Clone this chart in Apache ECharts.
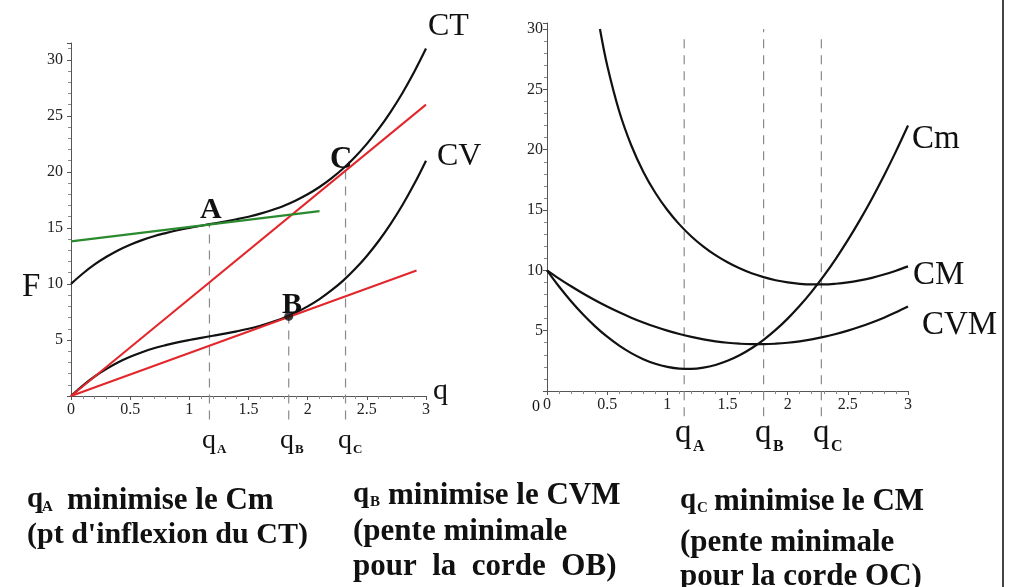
<!DOCTYPE html>
<html>
<head>
<meta charset="utf-8">
<script src="https://cdn.jsdelivr.net/npm/echarts@6/dist/echarts.min.js"></script>
<style>
html,body{margin:0;padding:0;background:#fff;}
#chart{width:1016px;height:587px;}
</style>
</head>
<body>
<div id="chart"></div>
<script>
// ---------- data ----------
const q = [0,0.1,0.2,0.3,0.4,0.5,0.6,0.7,0.8,0.9,1,1.1,1.2,1.3,1.4,1.5,1.6,1.7,1.8,1.9,2,2.1,2.2,2.3,2.4,2.5,2.6,2.7,2.8,2.9,3];
const CT = [10,10.93,11.74,12.42,13.01,13.5,13.91,14.26,14.54,14.79,15,15.19,15.38,15.56,15.77,16,16.27,16.6,16.98,17.45,18,18.65,19.42,20.3,21.33,22.5,23.83,25.34,27.02,28.91,31];
const CV = [0,0.93,1.74,2.42,3.01,3.5,3.91,4.26,4.54,4.79,5,5.19,5.38,5.56,5.77,6,6.27,6.6,6.98,7.45,8,8.65,9.42,10.3,11.33,12.5,13.83,15.34,17.02,18.91,21];
const Cm = [10,8.66,7.44,6.34,5.36,4.5,3.76,3.14,2.64,2.26,2,1.86,1.84,1.94,2.16,2.5,2.96,3.54,4.24,5.06,6,7.06,8.24,9.54,10.96,12.5,14.16,15.94,17.84,19.86,22];
const CVM = [10,9.32,8.68,8.08,7.52,7,6.52,6.08,5.68,5.32,5,4.72,4.48,4.28,4.12,4,3.92,3.88,3.88,3.92,4,4.12,4.28,4.48,4.72,5,5.32,5.68,6.08,6.52,7];
const qCM = [0.44,0.5,0.6,0.7,0.8,0.9,1,1.1,1.2,1.3,1.4,1.5,1.6,1.7,1.8,1.9,2,2.1,2.2,2.3,2.4,2.5,2.6,2.7,2.8,2.9,3];
const CM = [30,27,23.19,20.37,18.18,16.43,15,13.81,12.81,11.97,11.26,10.67,10.17,9.76,9.44,9.18,9,8.88,8.83,8.83,8.89,9,9.17,9.38,9.65,9.97,10.33];
// straight lines (q, F)
const chordOCq = [0, 3],    chordOCF = [0, 26];
const chordOBq = [0, 2.92], chordOBF = [0, 11.2];
const tangentAq = [0, 2.1], tangentAF = [13.8, 16.5];
// point B
const pointB = [1.84, 7.1];
// dashed guides
const leftGuideQ = [1.17, 1.84, 2.32], leftGuideTop = [15.3, 7.1, 20.3];
const rightGuideQ = [1.14, 1.80, 2.28], rightGuideTop = [29.5, 30, 29.2];
const guideBottom = -2.1;
// tick labels
const xTickLabels = ['0','0.5','1','1.5','2','2.5','3'];
const yTickLabels = ['0','5','10','15','20','25','30'];

// ---------- build ----------
const zip = (a, b) => a.map((v, i) => [v, b[i]]);
const SERIF = '"Liberation Serif","Times New Roman",serif';
const INK = '#111';
const RED = '#e3262b';
const GREEN = '#2b8a2e';
const GUIDE = '#8a8a8a';

function xAxisCfg(grid){
  return {
    type:'value', gridIndex:grid, min:0, max:3, interval:0.5,
    axisLine:{onZero:false, lineStyle:{color:'#555', width:1}},
    axisTick:{show:true, length:4, lineStyle:{color:'#555'}},
    minorTick:{show:true, splitNumber:5, length:3, lineStyle:{color:'#888'}},
    splitLine:{show:false},
    axisLabel:{fontFamily:SERIF, fontSize:16, color:'#222', margin:6,
      formatter:v => xTickLabels[Math.round(v/0.5)]}
  };
}
function yAxisCfg(grid, max, margin){
  return {
    type:'value', gridIndex:grid, min:0, max:max, interval:5,
    axisLine:{onZero:false, lineStyle:{color:'#555', width:1}},
    axisTick:{show:true, length:4, lineStyle:{color:'#555'}},
    minorTick:{show:true, splitNumber:5, length:3, lineStyle:{color:'#888'}},
    splitLine:{show:false},
    axisLabel:{fontFamily:SERIF, fontSize:16, color:'#222', margin:margin,
      showMinLabel:false, showMaxLabel:false,
      formatter:v => (v % 5 === 0 ? yTickLabels[v/5] : '')}
  };
}
function curve(name, data, gi, color, width){
  return {name, type:'line', xAxisIndex:gi, yAxisIndex:gi, data, smooth:0.35,
    showSymbol:false, symbol:'none', clip:false, silent:true,
    lineStyle:{color:color||INK, width:width||2.2}, z:3};
}
function guides(qs, tops, gi){
  return qs.map((x, i) => ({type:'line', xAxisIndex:gi, yAxisIndex:gi,
    data:[[x, guideBottom],[x, tops[i]]], showSymbol:false, symbol:'none', clip:false, silent:true,
    lineStyle:{color:GUIDE, width:1.2, type:[9,7]}, z:1}));
}

const series = [
  ...guides(leftGuideQ, leftGuideTop, 0),
  ...guides(rightGuideQ, rightGuideTop, 1),
  curve('CT', zip(q, CT), 0),
  curve('CV', zip(q, CV), 0),
  curve('OC', zip(chordOCq, chordOCF), 0, RED, 2),
  curve('OB', zip(chordOBq, chordOBF), 0, RED, 2),
  curve('tangente A', zip(tangentAq, tangentAF), 0, GREEN, 2.2),
  {type:'scatter', xAxisIndex:0, yAxisIndex:0, data:[pointB], symbolSize:9,
    itemStyle:{color:INK}, silent:true, z:4},
  curve('Cm', zip(q, Cm), 1),
  curve('CM', zip(qCM, CM), 1),
  curve('CVM', zip(q, CVM), 1)
];

// (x = left edge, base = alphabetic baseline)
function txt(text, x, base, size, bold){
  return {type:'text', silent:true, style:{
    text, x, y: Math.round(base - 0.74*size), fill:'#111',
    font:(bold ? 'bold ' : '') + size + 'px ' + SERIF,
    align:'left', verticalAlign:'top'}};
}

const graphics = [
  // left panel labels
  txt('CT', 428, 35, 32),
  txt('CV', 437, 165, 32),
  txt('C', 330, 167, 31, true),
  txt('A', 200, 217, 30, true),
  txt('B', 282, 312, 30, true),
  txt('F', 22, 295, 33),
  txt('q', 433, 398, 30),
  txt('q', 202, 448, 28), txt('A', 217, 453, 13, true),
  txt('q', 280, 448, 28), txt('B', 295, 453, 13, true),
  txt('q', 338, 448, 28), txt('C', 353, 453, 13, true),
  // right panel labels
  txt('Cm', 912, 147, 33),
  txt('CM', 913, 283, 33),
  txt('CVM', 922, 333, 33),
  txt('q', 675, 441, 33), txt('A', 693, 451, 16, true),
  txt('q', 755, 441, 33), txt('B', 773, 451, 16, true),
  txt('q', 813, 441, 33), txt('C', 831, 451, 16, true),
  txt('0', 532, 411, 16),
  // bottom explanations
  txt('q', 27, 506, 29, true), txt('A', 42, 511, 15, true),
  txt('minimise le Cm', 67, 508, 31, true),
  txt("(pt d'inflexion du CT)", 27, 542, 30, true),
  txt('q', 353, 501, 29, true), txt('B', 370, 506, 15, true),
  txt('minimise le CVM', 388, 503, 31, true),
  txt('(pente minimale', 353, 539, 31, true),
  txt('pour  la  corde  OB)', 353, 574, 31, true),
  txt('q', 680, 507, 29, true), txt('C', 697, 512, 15, true),
  txt('minimise le CM', 714, 509, 31, true),
  txt('(pente minimale', 680, 550, 31, true),
  txt('pour la corde OC)', 680, 584, 31, true),
  // right border rule
  {type:'line', silent:true, shape:{x1:1003, y1:0, x2:1003, y2:587},
    style:{stroke:'#444', lineWidth:2}}
];

const chart = echarts.init(document.getElementById('chart'), null, {renderer:'canvas'});
chart.setOption({
  animation:false,
  backgroundColor:'#fff',
  grid:[
    {left:71, top:43, width:355, height:353, containLabel:false, outerBoundsMode:'none'},
    {left:547, top:23, width:361, height:368, containLabel:false, outerBoundsMode:'none'}
  ],
  xAxis:[xAxisCfg(0), xAxisCfg(1)],
  yAxis:[yAxisCfg(0, 31.5, 8), yAxisCfg(1, 30.5, 4)],
  series,
  graphic:graphics
});
</script>
</body>
</html>
